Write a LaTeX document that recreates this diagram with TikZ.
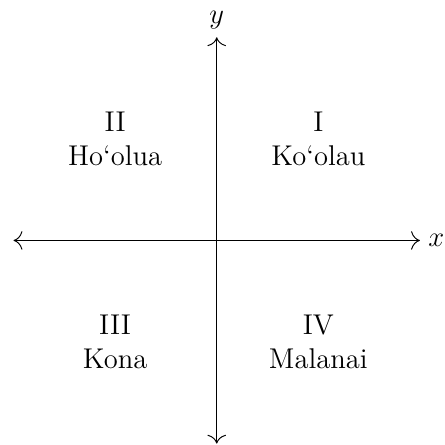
\documentclass[tikz,border=0pt]{standalone}
\usetikzlibrary{arrows.meta}
\begin{document}
\begin{tikzpicture}[
  >={To[scale=1.5]},
  axis/.style={<->},
  quad/.style={align=center,font=\large},
  lab/.style={font=\large}
]
\useasboundingbox (-3.2,-3.02) rectangle (3.36,3.55);
\coordinate (xl) at (-3,0);
\coordinate (xr) at (3,0);
\coordinate (yb) at (0,-3);
\coordinate (yt) at (0,3);
\draw[axis] (xl) -- (xr);
\draw[axis] (yb) -- (yt);
\node[lab,anchor=west] (xlab) at (xr) {$x$};
\node[lab,anchor=south] (ylab) at (yt) {$y$};
\node[quad] (q1) at (1.5,1.5) {I\\Ko`olau};
\node[quad] (q2) at (-1.5,1.5) {II\\Ho`olua};
\node[quad] (q3) at (-1.5,-1.5) {III\\Kona};
\node[quad] (q4) at (1.5,-1.5) {IV\\Malanai};
\end{tikzpicture}
\end{document}
